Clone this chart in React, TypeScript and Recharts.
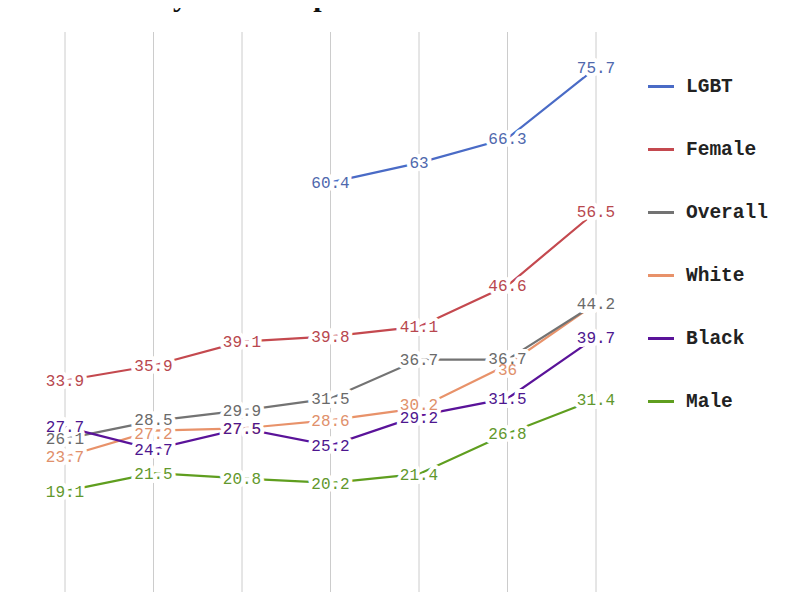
import React from 'react';
import { LineChart, Line, XAxis, YAxis, CartesianGrid, Legend, LabelList } from 'recharts';

const years = ['2009', '2011', '2013', '2015', '2017', '2019', '2021'];
const lgbt = [null, null, null, 60.4, 63, 66.3, 75.7];
const female = [33.9, 35.9, 39.1, 39.8, 41.1, 46.6, 56.5];
const overall = [26.1, 28.5, 29.9, 31.5, 36.7, 36.7, 44.2];
const white = [23.7, 27.2, 27.5, 28.6, 30.2, 36, 44.2];
const black = [27.7, 24.7, 27.5, 25.2, 29.2, 31.5, 39.7];
const male = [19.1, 21.5, 20.8, 20.2, 21.4, 26.8, 31.4];

const legendOrder = ['LGBT', 'Female', 'Overall', 'White', 'Black', 'Male'];
const drawOrder = ['LGBT', 'Female', 'White', 'Overall', 'Black', 'Male'];

const lineColors: Record<string, string> = {
  LGBT: '#4a6bc6',
  Female: '#c4494f',
  Overall: '#737373',
  White: '#e8926a',
  Black: '#5a1399',
  Male: '#5f9e1f',
};
const labelColors: Record<string, string> = {
  LGBT: '#4f68ad',
  Female: '#b8474e',
  Overall: '#6a6a6a',
  White: '#e0906b',
  Black: '#4d168f',
  Male: '#62982c',
};

// small vertical nudges (px) to keep crowded labels apart, like the original
const labelNudge: Record<string, number[]> = {
  White: [0, 3, 0, 0, -4, 5, 0],
  Overall: [0, -1, 0, 0, 0, -1, 0],
  Black: [0, 0, 0, 0, 2, 0, 0],
};

const data = years.map((y, i) => ({
  year: y,
  LGBT: lgbt[i],
  Female: female[i],
  Overall: overall[i],
  White: white[i],
  Black: black[i],
  Male: male[i],
}));

const mono = "'Liberation Mono', 'DejaVu Sans Mono', monospace";

const makeLabel = (key: string, halo: boolean) => (props: any) => {
  const { x, y, value, index } = props;
  if (value === null || value === undefined) return null;
  // the White series' last label sits exactly under the Overall one; only Overall's shows
  if (!halo && key === 'White' && index === years.length - 1) return null;
  const nudge = (labelNudge[key] && labelNudge[key][index]) || 0;
  return (
    <text
      x={x}
      y={y + nudge}
      dy="0.35em"
      textAnchor="middle"
      fill={halo ? '#ffffff' : labelColors[key]}
      stroke={halo ? '#ffffff' : 'none'}
      strokeWidth={halo ? 8 : 0}
      strokeLinejoin="round"
      fontFamily={mono}
      fontSize={16}
    >
      {value}
    </text>
  );
};

const LegendContent = () => (
  <div style={{ fontFamily: mono }}>
    {legendOrder.map((k) => (
      <div key={k} style={{ height: 63, display: 'flex', alignItems: 'center' }}>
        <div style={{ width: 26, height: 3, background: lineColors[k], marginRight: 12 }} />
        <span style={{ fontSize: 19.5, color: '#222', fontWeight: 'bold' }}>{k}</span>
      </div>
    ))}
  </div>
);

export default function App() {
  return (
    <div style={{ position: 'relative', margin: -8, width: 800, height: 600, overflow: 'hidden', background: '#fff' }}>
      <div
        style={{
          position: 'absolute',
          left: 38,
          top: -19,
          fontFamily: "'Liberation Serif', serif",
          fontWeight: 'bold',
          fontSize: 30,
          lineHeight: '30px',
          whiteSpace: 'nowrap',
          color: '#111',
        }}
      >
        Persistently sad or hopeless
      </div>
      <LineChart
        width={800}
        height={660}
        data={data}
        margin={{ top: 32, right: 204, left: 65, bottom: 26 }}
        style={{ position: 'absolute', left: 0, top: 0 }}
      >
        <CartesianGrid horizontal={false} stroke="#cccccc" />
        <XAxis dataKey="year" hide />
        <YAxis domain={[0, 80.5]} hide />
        <Legend
          layout="vertical"
          align="center"
          verticalAlign="middle"
          content={<LegendContent />}
          wrapperStyle={{ left: 648, top: 55, width: 150 }}
        />
        {drawOrder.map((k) => (
          <Line
            key={k}
            type="linear"
            dataKey={k}
            stroke={lineColors[k]}
            strokeWidth={2.2}
            dot={false}
            activeDot={false}
            isAnimationActive={false}
          >
            <LabelList dataKey={k} content={makeLabel(k, true)} />
          </Line>
        ))}
        {drawOrder.map((k) => (
          <Line
            key={k + '-labels'}
            type="linear"
            dataKey={k}
            stroke="none"
            strokeWidth={0}
            dot={false}
            activeDot={false}
            legendType="none"
            isAnimationActive={false}
          >
            <LabelList dataKey={k} content={makeLabel(k, false)} />
          </Line>
        ))}
      </LineChart>
    </div>
  );
}
